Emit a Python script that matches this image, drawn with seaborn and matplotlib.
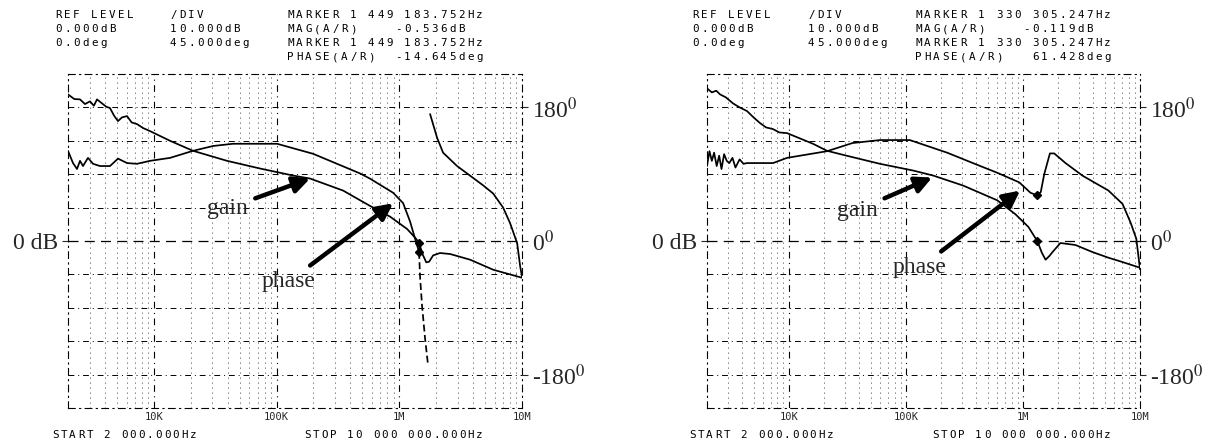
import numpy as np
import matplotlib
matplotlib.use("Agg")
import matplotlib.pyplot as plt
from matplotlib.ticker import NullLocator
import seaborn as sns

# ---------------- data ----------------
# Left panel
left_gain_freq = [2000, 2250, 2506, 2750, 3022, 3250, 3447, 3786, 4100, 4398, 4750, 5110,
                  5500, 6052, 6600, 7300, 8200, 9320, 13566, 20880, 39530, 73420, 136400,
                  187600, 348600, 578000, 841000, 1158000, 1346000, 1449184, 1550000,
                  1660000, 1750000, 1890000, 2150000, 2600000, 3780000, 5820000, 10000000]
left_gain_db = [43.9, 42.5, 42.4, 41.0, 41.8, 40.5, 42.4, 41.2, 40.2, 39.8, 37.5, 35.9,
                37.0, 37.4, 35.5, 35.0, 33.8, 32.9, 30.0, 27.0, 24.0, 21.7, 19.6,
                18.7, 15.1, 10.5, 7.3, 3.6, 1.0, -0.5, -4.0,
                -6.4, -6.2, -4.3, -3.6, -3.9, -5.6, -8.6, -11.0]
left_phase_freq = [2000, 2197, 2368, 2506, 2650, 2910, 3198, 3646, 4398, 5110, 6052, 7300,
                   9320, 13566, 20880, 30400, 44240, 101000, 198500, 479600, 578000,
                   890800, 1075000, 1226000, 1346000, 1449184]
left_phase_deg = [121.5, 105, 97, 108, 101, 112, 104, 101, 101, 111, 105, 104,
                  108, 112, 121.5, 128, 131, 131, 117.5, 91, 84,
                  65, 51, 26, 3, -14.6]
left_drop_freq = [1449184, 1479000, 1535000, 1624000, 1718000]
left_drop_deg = [-14.6, -50, -88, -132, -168]
left_wrap_freq = [1783000, 2034000, 2275000, 2958000, 3776000, 4820000, 5820000, 7020000,
                  8000000, 9130000, 9680000, 10000000]
left_wrap_deg = [171, 139, 119, 101, 88, 75, 64, 45, 24, -3, -35, -48]
left_marker = [1449183.752, -0.536, -14.645]

# Right panel
right_gain_freq = [2000, 2200, 2400, 2585, 2900, 3336, 3800, 4395, 5000, 5677, 6400, 7330,
                   8300, 9656, 16100, 21220, 31460, 60200, 115300, 170800, 308300, 602000,
                   863000, 1114000, 1330305, 1450000, 1560000, 1680000, 1790000, 2090000,
                   2810000, 3920000, 5370000, 7090000, 10000000]
right_gain_db = [45.7, 44.5, 45.0, 43.9, 43.0, 41.2, 40.0, 38.9, 37.0, 35.3, 34.0, 33.5,
                 32.5, 32.3, 29.1, 27.0, 25.5, 23.1, 21.1, 19.6, 16.6, 12.2,
                 8.0, 4.2, -0.1, -3.5, -5.6, -4.5, -3.3, -0.6,
                 -1.2, -3.3, -5.0, -6.3, -8.0]
right_phase_freq = [2000, 2100, 2200, 2300, 2420, 2540, 2660, 2800, 2950, 3100, 3300, 3500,
                    3800, 4100, 4395, 5677, 7330, 9656, 21220, 35000, 60200, 108000,
                    225000, 432000, 602000, 930000, 1160000, 1330305, 1420000, 1520000,
                    1700000, 1850000, 2310000, 3230000, 5370000, 7090000, 8300000,
                    9300000, 10000000]
right_phase_deg = [101, 121, 108, 119, 101, 115, 97, 117, 108, 105, 112, 99,
                   110, 104, 105, 105, 105, 112, 121, 132, 136, 136,
                   119, 101, 92, 79, 65, 61.4, 66, 90,
                   118, 118, 105, 88, 68, 50, 25,
                   3, -38]
right_marker = [1330305.247, -0.119, 61.428]

decade_ticks = [1e4, 1e5, 1e6, 1e7]
decade_labels = ["10K", "100K", "1M", "10M"]
phase_ticks = [-180, 0, 180]
phase_labels = [r"-180$^0$", r"0$^0$", r"180$^0$"]

left_header = [["REF LEVEL", "/DIV", "MARKER 1 449 183.752Hz"],
               ["0.000dB", "10.000dB", "MAG(A/R)    -0.536dB"],
               ["0.0deg", "45.000deg", "MARKER 1 449 183.752Hz"],
               ["", "", "PHASE(A/R)  -14.645deg"]]
right_header = [["REF LEVEL", "/DIV", "MARKER 1 330 305.247Hz"],
                ["0.000dB", "10.000dB", "MAG(A/R)    -0.119dB"],
                ["0.0deg", "45.000deg", "MARKER 1 330 305.247Hz"],
                ["", "", "PHASE(A/R)   61.428deg"]]
start_text = "START 2 000.000Hz"
stop_text = "STOP 10 000 000.000Hz"

# ---------------- drawing ----------------
sns.set_theme(style="white")
plt.rcParams["mathtext.fontset"] = "stix"
W, H = 1228, 444
fig = plt.figure(figsize=(W / 100, H / 100), dpi=100)
fig.patch.set_facecolor("white")

SERIF = "Liberation Serif"
MONO = "DejaVu Sans Mono"
BOX_TOP, BOX_BOT = 74, 408


def dot_text(x, y, s, step=9.0, size=7.8):
    for i, ch in enumerate(s):
        if ch != " ":
            fig.text((x + i * step) / W, 1 - y / H, ch, fontsize=size, family=MONO,
                     ha="left", va="center", color="black")


def panel(x0, x1, gfreq, gdb, phase_parts, marker, header, hx, annot):
    ax = fig.add_axes([x0 / W, 1 - BOX_BOT / H, (x1 - x0) / W, (BOX_BOT - BOX_TOP) / H])
    ax.set_xscale("log")
    ax.set_xlim(2000, 1e7)
    ax.set_ylim(-50, 50)
    ax.set_facecolor("white")
    ax2 = ax.twinx()
    ax2.set_ylim(-225, 225)

    # grid
    dd = (0, (6, 4, 1, 4))
    for v in np.arange(-40, 41, 10):
        if v == 0:
            ax.axhline(v, color="black", lw=0.9, ls=(0, (8, 5)), zorder=1)
        else:
            ax.axhline(v, color="black", lw=0.7, ls=dd, zorder=1)
    for k in range(3, 7):
        for m in range(1, 10):
            f = m * 10 ** k
            if 2000 < f < 1e7:
                if m == 1:
                    ax.axvline(f, color="black", lw=0.8, ls=dd, zorder=1)
                else:
                    ax.axvline(f, color="black", lw=0.6, ls=(0, (1, 5)), zorder=1)
    for sp in ax.spines.values():
        sp.set_linestyle(dd)
        sp.set_linewidth(0.8)
        sp.set_color("black")
    for sp in ax2.spines.values():
        sp.set_visible(False)

    # traces
    sns.lineplot(x=gfreq, y=gdb, ax=ax, color="black", linewidth=1.25,
                 estimator=None, sort=False, legend=False)
    for pf, pdg, ls in phase_parts:
        sns.lineplot(x=pf, y=pdg, ax=ax2, color="black", linewidth=1.25, linestyle=ls,
                     estimator=None, sort=False, legend=False)
    ax.plot([marker[0]], [marker[1]], marker="D", ms=4, color="black", zorder=5)
    ax2.plot([marker[0]], [marker[2]], marker="D", ms=4, color="black", zorder=5)

    # ticks
    ax.set_xticks(decade_ticks, decade_labels)
    ax.xaxis.set_minor_locator(NullLocator())
    ax.tick_params(axis="x", length=0, pad=3, labelsize=7.5)
    for t in ax.get_xticklabels():
        t.set_family(MONO)
    ax.set_yticks([0], ["0 dB"])
    ax.tick_params(axis="y", left=True, length=4, width=0.8, pad=3, labelsize=17)
    for t in ax.get_yticklabels():
        t.set_family(SERIF)
    ax2.set_yticks(phase_ticks, phase_labels)
    ax2.tick_params(axis="y", right=True, length=4, width=0.8, pad=3, labelsize=17)
    for t in ax2.get_yticklabels():
        t.set_family(SERIF)
    ax.set_xlabel("")
    ax.set_ylabel("")
    ax2.set_ylabel("")

    # annotations
    for txt, xy, xyt in annot:
        ax.annotate(txt, xy=xy, xytext=xyt, ha="center", va="center",
                    fontsize=17, family=SERIF, zorder=6,
                    arrowprops=dict(arrowstyle="-|>,head_length=0.7,head_width=0.35",
                                    color="black", lw=3.2, shrinkA=3, shrinkB=0,
                                    mutation_scale=14))

    # header / footer text
    for r, row in enumerate(header):
        for c, s in enumerate(row):
            dot_text(hx[c], 15 + r * 14, s)
    dot_text(hx[0] - 3, 435, start_text, step=8.6)
    dot_text(x0 + 0.52 * (x1 - x0), 435, stop_text, step=8.6)
    return ax


panel(68, 522, left_gain_freq, left_gain_db,
      [(left_phase_freq, left_phase_deg, "-"),
       (left_drop_freq, left_drop_deg, (0, (4, 2))),
       (left_wrap_freq, left_wrap_deg, "-")],
      left_marker, left_header, [55, 170, 287],
      [("gain", (187600, 18.7), (40000, 9.8)),
       ("phase", (890800, 11.3), (125000, -12.2))])

panel(707, 1140, right_gain_freq, right_gain_db,
      [(right_phase_freq, right_phase_deg, "-")],
      right_marker, right_header, [692, 808, 915],
      [("gain", (167600, 19.0), (38300, 9.2)),
       ("phase", (946000, 15.1), (132000, -8.0))])

fig.savefig("out.png", dpi=100, facecolor="white")
